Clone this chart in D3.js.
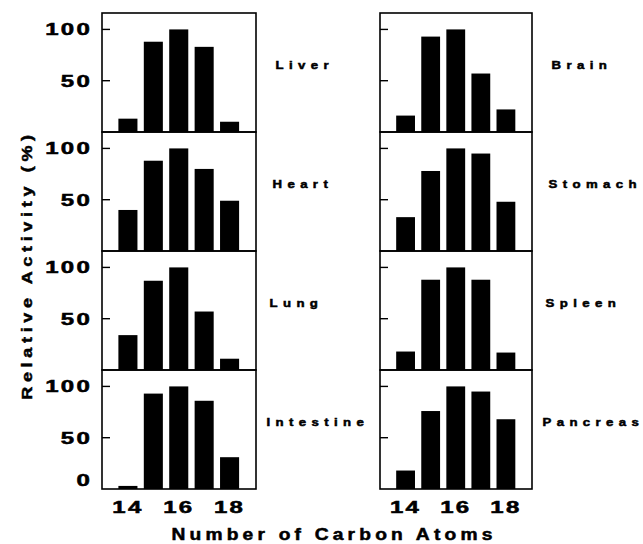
<!DOCTYPE html>
<html>
<head>
<meta charset="utf-8">
<script src="https://cdn.jsdelivr.net/npm/d3@7"></script>
<style>
  body { margin: 0; background: #fff; }
  text { font-family: "Liberation Sans", Arial, sans-serif; font-weight: bold; fill: #000; stroke: #000; stroke-width: 0.5; }
</style>
</head>
<body>
<script>
var carbons = [14, 15, 16, 17, 18];
var tissues = ["Liver", "Heart", "Lung", "Intestine", "Brain", "Stomach", "Spleen", "Pancreas"];
var liver = [13, 88, 100, 83, 10];
var heart = [40, 88, 100, 80, 49];
var lung = [34, 87, 100, 57, 11];
var intestine = [3, 93, 100, 86, 31];
var brain = [16, 93, 100, 57, 22];
var stomach = [33, 78, 100, 95, 48];
var spleen = [18, 88, 100, 88, 17];
var pancreas = [18, 76, 100, 95, 68];
var yTicks = [0, 50, 100];
var xTicks = [14, 16, 18];

var series = [liver, heart, lung, intestine, brain, stomach, spleen, pancreas];

var w = 643,
    h = 544,
    gridTop = 13,
    rowH = 119,
    cols = [[102, 256], [380, 532]];

var svg = d3.select("body").append("svg")
    .attr("width", w)
    .attr("height", h);

// wide, letter-spaced bold type like the original figure
function wideText(parent, x, y, str, size, sx, spacing, anchor, rotate) {
    var g = parent.append("g")
        .attr("transform", "translate(" + x + "," + y + ")" + (rotate ? " rotate(" + rotate + ")" : "") + " scale(" + sx + ",1)");
    return g.append("text")
        .attr("font-size", size)
        .attr("letter-spacing", spacing)
        .attr("text-anchor", anchor || "start")
        .text(str);
}

var yScale = d3.scaleLinear().domain([0, 116]);

tissues.forEach(function(name, i) {
    var col = Math.floor(i / 4),
        row = i % 4,
        x0 = cols[col][0],
        x1 = cols[col][1],
        y0 = gridTop + row * rowH,
        y1 = y0 + rowH;

    var x = d3.scaleLinear().domain([12.98, 19.04]).range([x0, x1]);
    var y = yScale.copy().range([y1, y0]);
    var bw = 0.75 * (x(15) - x(14));

    var panel = svg.append("g").attr("class", "panel");

    panel.selectAll(".bar")
        .data(series[i])
        .enter()
        .append("rect")
        .attr("class", "bar")
        .attr("x", function(d, j) { return x(carbons[j]) - bw / 2; })
        .attr("width", bw)
        .attr("y", function(d) { return y(d); })
        .attr("height", function(d) { return y(0) - y(d); })
        .attr("fill", "#000");

    panel.append("rect")
        .attr("x", x0)
        .attr("y", y0)
        .attr("width", x1 - x0)
        .attr("height", rowH)
        .attr("fill", "none")
        .attr("stroke", "#000")
        .attr("stroke-width", 1.6);

    // inward ticks at 50 and 100
    panel.selectAll(".tick")
        .data([50, 100])
        .enter()
        .append("line")
        .attr("x1", x0)
        .attr("x2", x0 + 8)
        .attr("y1", function(d) { return y(d); })
        .attr("y2", function(d) { return y(d); })
        .attr("stroke", "#000")
        .attr("stroke-width", 1.4);

    if (col === 0) {
        yTicks.forEach(function(t) {
            if (t === 0 && row !== 3) return;
            wideText(panel, 92, y(t) + 6 - (t === 0 ? 9 : 0), String(t), 16, 1.5, 1.5, "end");
        });
    }

    if (row === 3) {
        xTicks.forEach(function(t) {
            wideText(panel, x(t), 513, String(t), 16, 1.5, 1.5, "middle");
        });
    }

    wideText(panel, x1 + 19.5 - 3 * row, y0 + 56, name, 11, 1.2, 4.5, "start");
});

wideText(svg, 334, 540, "Number of Carbon Atoms", 16, 1.2, 3.5, "middle");
wideText(svg, 32, 265, "Relative Activity (%)", 15, 1.2, 3.9, "middle", -90);
</script>
</body>
</html>
